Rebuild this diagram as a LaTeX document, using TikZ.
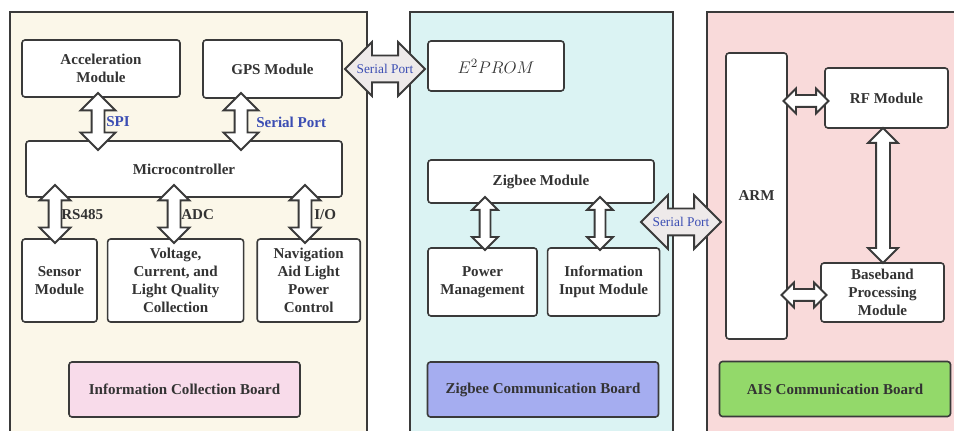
\documentclass[tikz,border=0pt]{standalone}
\usepackage{fontspec}
\setmainfont{Liberation Serif}
\usetikzlibrary{positioning,shapes.arrows}
\definecolor{NavInk}{HTML}{333333}
\definecolor{NavLine}{HTML}{3A3A3A}
\definecolor{NavBlue}{HTML}{3B4DB3}
\definecolor{NavCream}{HTML}{FBF7E9}
\definecolor{NavCyan}{HTML}{DBF3F3}
\definecolor{NavRose}{HTML}{F9DADA}
\definecolor{NavPink}{HTML}{F8DBEA}
\definecolor{NavLilac}{HTML}{A5ADF0}
\definecolor{NavGreen}{HTML}{93D96A}
\definecolor{NavGrey}{HTML}{EEEAEA}
\newlength\px
\setlength\px{0.025cm}
\tikzset{
  navpanel/.style={draw=NavLine,line width=1.8\px},
  navbox/.style={
    draw=NavLine,
    fill=white,
    line width=1.6\px,
    rounded corners=3\px,
    align=center,
    inner sep=0pt,
    text=NavInk,
    font=\fontsize{10.7}{12.8}\selectfont\bfseries
  },
  navboard/.style={navbox,minimum width=231\px,minimum height=55\px},
  navlink/.style n args={3}{
    double arrow,
    draw=NavLine,
    fill=white,
    line width=1.8\px,
    inner xsep=0pt,
    inner ysep=#2\px,
    double arrow head extend=#3\px,
    minimum height=#1\px
  },
  navport/.style={navlink={80}{12.5}{13.5},fill=NavGrey},
  navportlabel/.style={text=NavBlue,font=\fontsize{9.5}{10}\selectfont},
  navtag/.style={anchor=west,inner sep=0pt,text=NavInk,font=\fontsize{10.7}{12.8}\selectfont\bfseries}
}

\begin{document}
\begin{tikzpicture}[x=0.025cm,y=-0.025cm]
  \useasboundingbox (0,0) rectangle (954,431);
  \clip (0,0) rectangle (954,431);
  % boards
  \draw[navpanel,fill=NavCream] (10,12) rectangle (367,445);
  \draw[navpanel,fill=NavCyan] (410,12) rectangle (673,445);
  \draw[navpanel,fill=NavRose] (707,12) rectangle (965,445);

  % information collection board
  \node[navbox,minimum width=158\px,minimum height=57\px] (acc) at (101,68.5) {Acceleration\\Module};
  \node[navbox,minimum width=139\px,minimum height=58\px] (gps) at (272.5,69) {GPS Module};
  \node[navbox,minimum width=316\px,minimum height=56\px] (mcu) at (184,169) {Microcontroller};
  \node[navbox,minimum width=75\px,minimum height=83\px] (sensor) at (59.5,280.5) {Sensor\\Module};
  \node[navbox,right=9\px of sensor,minimum width=136\px,minimum height=83\px] (volt) {Voltage,\\Current, and\\Light Quality\\Collection};
  \node[navbox,right=12\px of volt,minimum width=103\px,minimum height=83\px] (light) {Navigation\\Aid Light\\Power\\Control};
  \node[navboard,fill=NavPink] (icb) at (184.5,389.5) {Information Collection Board};

  % zigbee communication board
  \node[navbox,minimum width=136\px,minimum height=50\px,font=\fontsize{13}{15}\selectfont] (eprom) at (496,66) {$E^2PROM$};
  \node[navbox,minimum width=226\px,minimum height=43\px] (zig) at (541,181.5) {Zigbee Module};
  \node[navbox,minimum width=109\px,minimum height=68\px] (power) at (482.5,282) {Power\\Management};
  \node[navbox,right=9\px of power,minimum width=112\px,minimum height=68\px] (input) {Information\\Input Module};
  \node[navboard,fill=NavLilac] (zcb) at (543,389.5) {Zigbee Communication Board};

  % ais communication board
  \node[navbox,minimum width=61\px,minimum height=286\px] (arm) at (756.5,196) {ARM};
  \node[navbox,minimum width=123\px,minimum height=60\px] (rf) at (886.5,98) {RF Module};
  \node[navbox,minimum width=123\px,minimum height=59\px] (base) at (882.5,292.5) {Baseband\\Processing\\Module};
  \node[navboard,fill=NavGreen] (ais) at (835,389) {AIS Communication Board};

  % links
  \node[navlink={57}{5.5}{11},rotate=90] (spilink) at (98,121.5) {};
  \node[navlink={57}{5.5}{11},rotate=90] (gpslink) at (241,121.5) {};
  \node[navlink={58}{5.5}{9},rotate=90] (rslink) at (55,214) {};
  \node[navlink={58}{5.5}{9},rotate=90] (adclink) at (174,214) {};
  \node[navlink={58}{5.5}{9},rotate=90] (iolink) at (305,214) {};
  \node[navlink={53}{4.5}{7.5},rotate=90] (powerlink) at (485,223.5) {};
  \node[navlink={53}{4.5}{7.5},rotate=90] (inputlink) at (600,223.5) {};
  \node[navlink={45}{5}{6.5}] (rflink) at (806,101) {};
  \node[navlink={45}{5}{6.5}] (baselink) at (804,295) {};
  \node[navlink={135}{6}{8},rotate=90] (rfbaselink) at (883,195.5) {};
  \node[navport,label={[navportlabel]center:Serial Port}] (gpsport) at (385,69) {};
  \node[navport,label={[navportlabel]center:Serial Port}] (armport) at (681,222) {};

  % link labels
  \node[navtag,text=NavBlue] (spitag) at (106,122) {SPI};
  \node[navtag,text=NavBlue] (gpstag) at (256,122) {Serial Port};
  \node[navtag] (rstag) at (61,215) {RS485};
  \node[navtag] (adctag) at (181,215) {ADC};
  \node[navtag] (iotag) at (314,215) {I/O};
\end{tikzpicture}
\end{document}
